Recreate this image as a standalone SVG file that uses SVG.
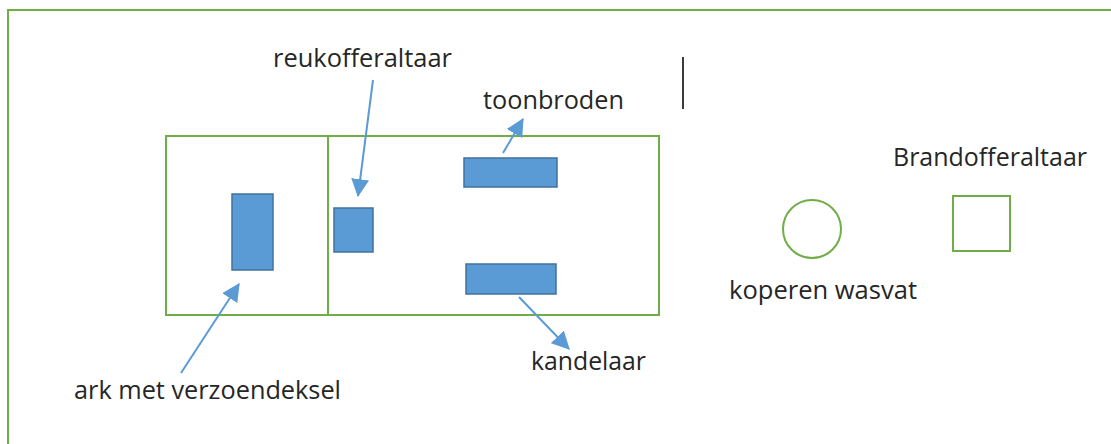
<svg xmlns="http://www.w3.org/2000/svg" width="1111" height="444" viewBox="0 0 1111 444">
<defs>
<style>
.green{fill:none;stroke:#70AD47;stroke-width:2}
.item{fill:#5B9BD5;stroke:#41719C;stroke-width:1.5}
.conn{stroke:#5B9BD5;stroke-width:2;fill:none}
.lbl{font-family:"Open Sans","Liberation Sans",sans-serif;font-size:25px;fill:#262626}
</style>
<marker id="arr" markerUnits="userSpaceOnUse" markerWidth="18" markerHeight="18" viewBox="0 0 16 16" refX="15" refY="8" orient="auto">
<path d="M0,0 L16,8 L0,16 z" fill="#5B9BD5"/>
</marker>
</defs>
<rect width="1111" height="444" fill="#ffffff"/>
<rect id="frame" class="green" x="8" y="10" width="1200" height="500"/>
<g id="tabernakel">
<rect class="green" x="166" y="136" width="493" height="179"/>
<line class="green" x1="328" y1="136" x2="328" y2="315"/>
</g>
<g id="ark"><rect class="item" x="232" y="194" width="41" height="76"/></g>
<g id="reukofferaltaar-node"><rect class="item" x="334" y="208" width="39" height="44"/></g>
<g id="toonbroden-node"><rect class="item" x="464" y="158" width="93" height="29"/></g>
<g id="kandelaar-node"><rect class="item" x="466" y="264" width="90" height="30"/></g>
<g id="wasvat"><circle class="green" cx="812" cy="229" r="29"/></g>
<g id="brandofferaltaar"><rect class="green" x="953" y="196" width="57" height="55"/></g>
<line id="cursor" x1="683" y1="57" x2="683" y2="109" stroke="#262626" stroke-width="1.8"/>
<g id="connectors">
<line class="conn" x1="373" y1="80" x2="358" y2="196" marker-end="url(#arr)"/>
<line class="conn" x1="503" y1="153" x2="523" y2="119" marker-end="url(#arr)"/>
<line class="conn" x1="181" y1="373" x2="239" y2="284" marker-end="url(#arr)"/>
<line class="conn" x1="519" y1="297" x2="569" y2="349" marker-end="url(#arr)"/>
</g>
<g id="labels">
<text class="lbl" x="273" y="67" textLength="179" lengthAdjust="spacingAndGlyphs">reukofferaltaar</text>
<text class="lbl" x="483" y="109" textLength="141" lengthAdjust="spacingAndGlyphs">toonbroden</text>
<text class="lbl" x="893" y="166" textLength="194" lengthAdjust="spacingAndGlyphs">Brandofferaltaar</text>
<text class="lbl" x="729" y="299" textLength="188" lengthAdjust="spacingAndGlyphs">koperen wasvat</text>
<text class="lbl" x="531" y="370" textLength="115" lengthAdjust="spacingAndGlyphs">kandelaar</text>
<text class="lbl" x="74" y="399" textLength="267" lengthAdjust="spacingAndGlyphs">ark met verzoendeksel</text>
</g>
</svg>
